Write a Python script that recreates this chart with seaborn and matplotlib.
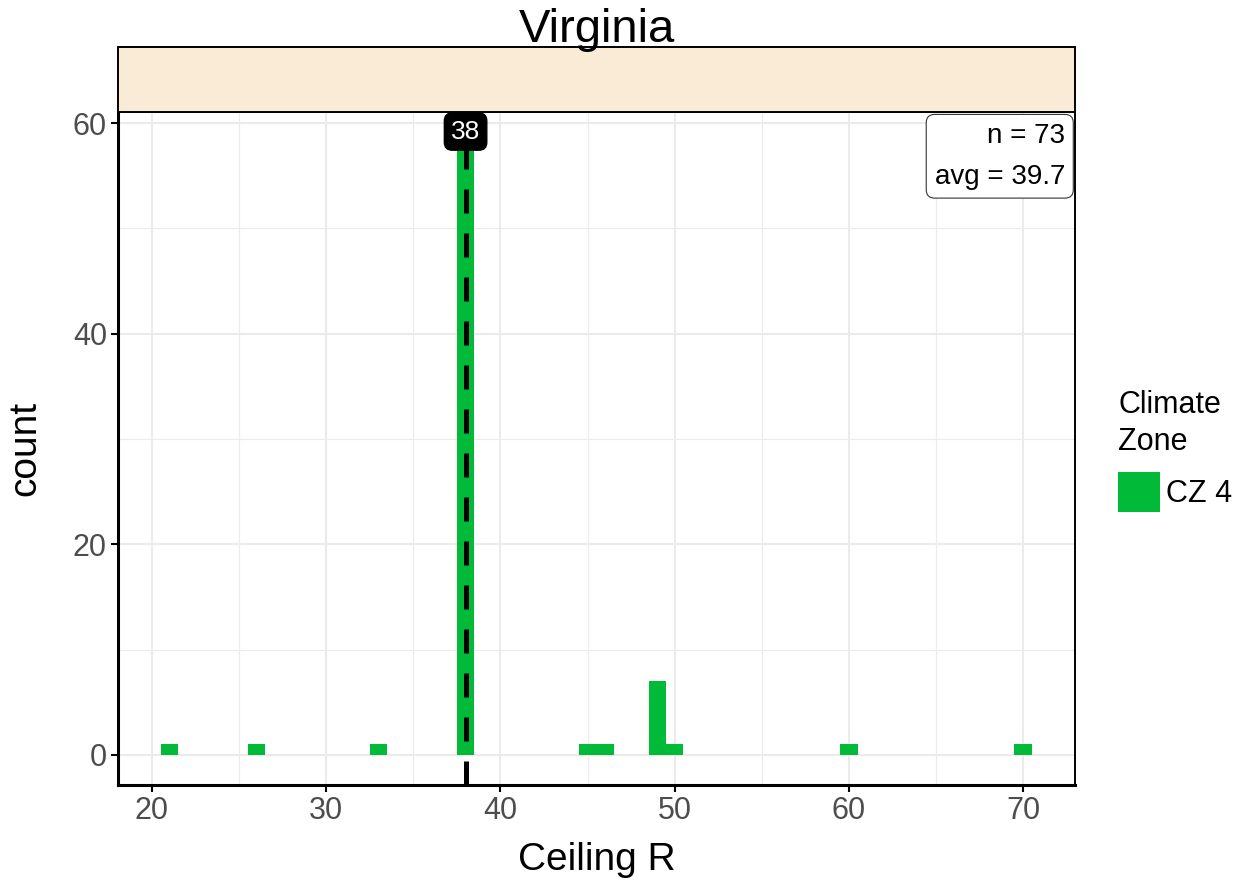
#!/usr/bin/env python

import numpy as np
import pandas as pd
import matplotlib.pyplot as plt
import matplotlib as mpl
import seaborn as sns
from matplotlib.ticker import MultipleLocator
from matplotlib.patches import Patch

sns.set_theme(style='white')
mpl.rcParams['font.family'] = ['Liberation Sans', 'DejaVu Sans']
mpl.rcParams['text.color'] = 'black'
mpl.rcParams['axes.labelcolor'] = 'black'

#Histogram values (bin width 1, centred on integers).
ceiling_r = [21, 26, 33, 38, 45, 46, 49, 50, 60, 70]
counts = [1, 1, 1, 58, 1, 1, 7, 1, 1, 1]
state = 'Virginia'
zone = 'CZ 4'
median_label = 38

green = '#00BA38'
grey_txt = '#4D4D4D'
grid_c = '#EBEBEB'

df = pd.DataFrame({'Ceiling R': np.repeat(ceiling_r, counts)})
df['Climate Zone'] = zone
n_obs = len(df)
avg = df['Ceiling R'].mean()

W, H = 1251., 888.
fig = plt.figure(figsize=(W / 100., H / 100.), dpi=100)

#Panel and facet strip placed in pixel terms.
p_l, p_r, p_t, p_b = 118., 1075., 112., 785.
ax = fig.add_axes([p_l / W, 1 - p_b / H, (p_r - p_l) / W, (p_b - p_t) / H])
strip = fig.add_axes([p_l / W, 1 - p_t / H, (p_r - p_l) / W, 65. / H])

sns.histplot(data=df, x='Ceiling R', discrete=True, shrink=1., color=green,
             alpha=1., edgecolor='none', linewidth=0, ax=ax, zorder=2)

ax.set_xlim(18.05, 72.98)
ax.set_ylim(-2.85, 61.06)
ax.xaxis.set_major_locator(MultipleLocator(10))
ax.xaxis.set_minor_locator(MultipleLocator(5))
ax.yaxis.set_major_locator(MultipleLocator(20))
ax.yaxis.set_minor_locator(MultipleLocator(10))
ax.grid(which='major', color=grid_c, lw=1.5, zorder=0)
ax.grid(which='minor', color=grid_c, lw=0.8, zorder=0)
ax.set_axisbelow(True)

ax.tick_params(which='major', length=5, width=1.5, color='black',
               labelsize=22, labelcolor=grey_txt, pad=3,
               bottom=True, left=True)
ax.tick_params(which='minor', length=0)

for side in ['top', 'right']:
    ax.spines[side].set_linewidth(1.4)
    ax.spines[side].set_color('black')
for side in ['left', 'bottom']:
    ax.spines[side].set_linewidth(2.2)
    ax.spines[side].set_color('black')

ax.set_xlabel('Ceiling R', fontsize=28)
ax.set_ylabel('count', fontsize=28)
ax.xaxis.set_label_coords(0.5, -0.085)
ax.yaxis.set_label_coords(-0.078, 0.5)

#Median marker line and label.
ax.vlines(median_label, -2.85, 58.5, colors='black', lw=3.6,
          linestyles=(0, (4.8, 4.0)), zorder=3)
ax.text(median_label, 59.2, str(median_label), ha='center', va='center',
        color='white', fontsize=19, zorder=5,
        bbox=dict(boxstyle='round,pad=0.25,rounding_size=0.3',
                  fc='black', ec='black'))

#n / avg annotation box.
ax.text(0.9895, 0.984, 'n = {}\navg = {:.1f}'.format(n_obs, avg),
        transform=ax.transAxes, ha='right', va='top', fontsize=20,
        linespacing=1.75, zorder=5,
        bbox=dict(boxstyle='round,pad=0.3,rounding_size=0.3',
                  fc='white', ec='#333333', lw=0.8))

#Facet strip.
strip.set_facecolor('#FAEBD7')
strip.set_xticks([])
strip.set_yticks([])
for s in strip.spines.values():
    s.set_linewidth(1.4)
    s.set_color('black')

fig.text(596.5 / W, 1 - 30. / H, state, ha='center', va='center',
         fontsize=34)

#Legend.
handles = [Patch(facecolor=green, edgecolor='none', label=zone)]
leg = fig.legend(handles=handles, title='Climate\nZone', loc='center left',
                 bbox_to_anchor=(1118. / W, 1 - 451. / H), frameon=False,
                 fontsize=22, title_fontsize=22, handlelength=1.36,
                 handleheight=1.65, handletextpad=0.2, borderpad=0,
                 borderaxespad=0, alignment='left')
leg.get_title().set_linespacing(1.3)

fig.savefig('out.png', dpi=100)
plt.close(fig)
